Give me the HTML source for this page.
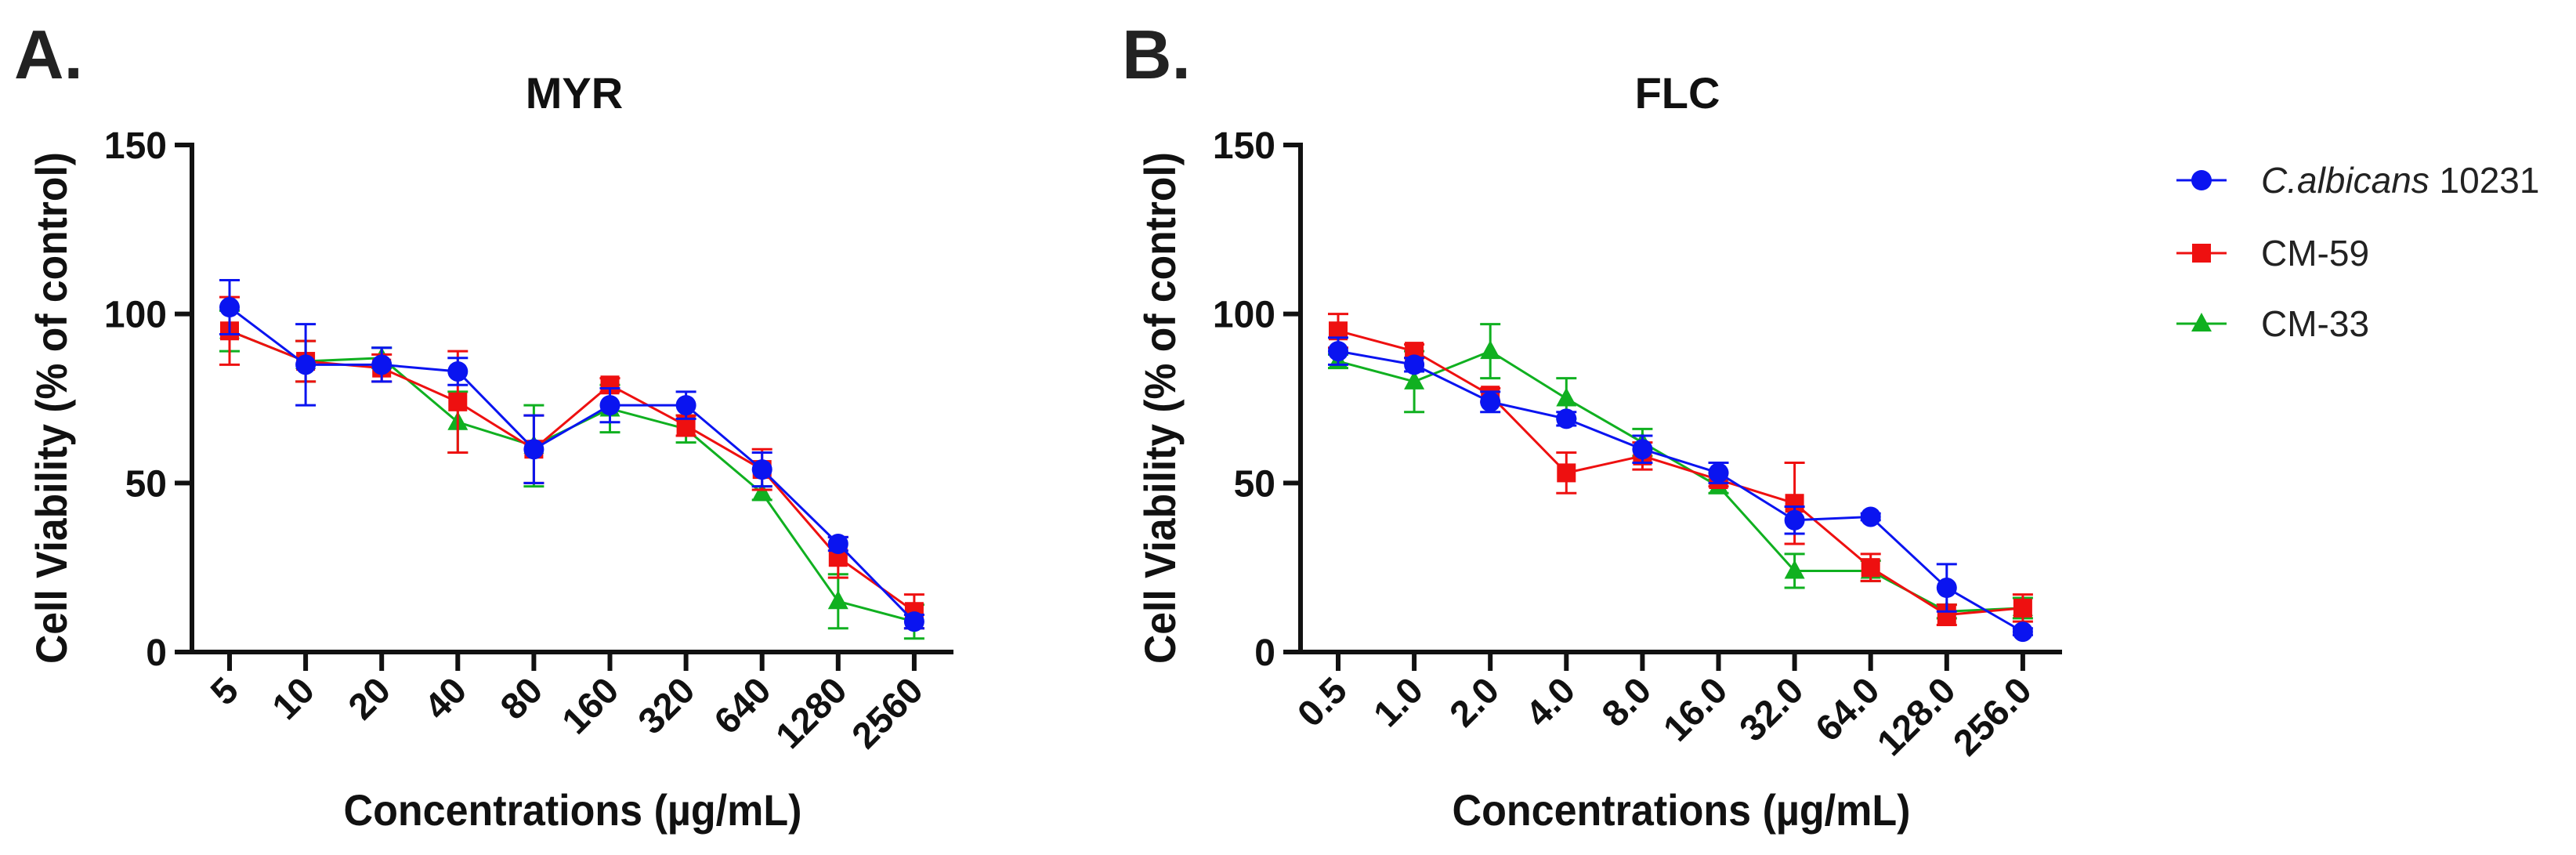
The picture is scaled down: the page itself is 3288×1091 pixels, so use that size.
<!DOCTYPE html>
<html><head><meta charset="utf-8"><style>
html,body{margin:0;padding:0;background:#fff;}
svg{display:block;font-family:"Liberation Sans",Arial,sans-serif;}
</style></head><body>
<svg id="fig" width="3288" height="1091" viewBox="0 0 3288 1091">
<text x="18" y="100" font-size="88" font-weight="bold" fill="#222">A.</text>
<text x="1432" y="100" font-size="88" font-weight="bold" fill="#222">B.</text>
<g id="legend"></g>
</svg>
<script>
const seriesNames = ["C.albicans 10231","CM-59","CM-33"];
const colors = ["#0a14f0","#ee1010","#10b020"];
const catsA = ["5","10","20","40","80","160","320","640","1280","2560"];
const catsB = ["0.5","1.0","2.0","4.0","8.0","16.0","32.0","64.0","128.0","256.0"];
const yTicks = [0,50,100,150];
const aBlue = [102,85,85,83,60,73,73,54,32,9];
const aBlueErr = [8,12,5,4,10,5,4,5,2,2];
const aRed = [95,86,84,74,60,79,67,54,28,12];
const aRedErr = [10,6,4,15,10,2,3,6,6,5];
const aGreen = [95,86,87,68,61,72,66,47,15,9];
const aGreenErr = [6,6,3,9,12,7,4,2,8,5];
const bBlue = [89,85,74,69,60,53,39,40,19,6];
const bBlueErr = [4,2,3,2,4,3,4,1,7,1];
const bRed = [95,89,76,53,58,51,44,25,11,13];
const bRedErr = [5,2,2,6,4,2,12,4,3,4];
const bGreen = [86,80,89,75,62,49,24,24,12,13];
const bGreenErr = [2,9,8,6,4,2,5,3,2,3];

const NS="http://www.w3.org/2000/svg";
const svg=document.getElementById('fig');
function mk(tag,attrs,parent){const e=document.createElementNS(NS,tag);for(const k in attrs)e.setAttribute(k,attrs[k]);(parent||svg).appendChild(e);return e;}

function marker(g,shape,cx,cy,col){
  let m;
  if(shape===0){m=mk('circle',{cx:cx,cy:cy,r:13,fill:col},g);}
  else if(shape===1){m=mk('rect',{x:cx-12,y:cy-12,width:24,height:24,fill:col},g);}
  else {m=mk('polygon',{points:`${cx},${cy-14} ${cx+13},${cy+10} ${cx-13},${cy+10}`,fill:col},g);}
  return m;
}

function panel(key,axisX,title,titleX,cats,vals,errs){
  const y0=832,y150=185,x0=axisX+48,dx=97.1,xEnd=axisX+972;
  const ys=v=>y0-(v/150)*(y0-y150);
  const xs=i=>x0+i*dx;
  const g=mk('g',{});
  
  
  const t=mk('text',{x:titleX,y:138,'font-size':56,'font-weight':'bold','text-anchor':'middle',fill:'#111'},g);
  t.textContent=title;
  
  
  const ya=mk('line',{x1:axisX,y1:y150-3,x2:axisX,y2:y0+3,stroke:'#111','stroke-width':6},g);
  
  
  const xa=mk('line',{x1:axisX-3,y1:y0,x2:xEnd,y2:y0,stroke:'#111','stroke-width':6},g);
  
  
  yTicks.forEach(v=>{
    mk('line',{x1:axisX-22,y1:ys(v),x2:axisX,y2:ys(v),stroke:'#111','stroke-width':6},g);
    const tl=mk('text',{x:axisX-32,y:ys(v)+17,'font-size':48,'font-weight':'bold','text-anchor':'end',fill:'#111'},g);
    tl.textContent=v;
    
    
  });
  cats.forEach((c,i)=>{
    mk('line',{x1:xs(i),y1:y0,x2:xs(i),y2:y0+24,stroke:'#111','stroke-width':6},g);
    const tl=mk('text',{x:xs(i)+14,y:y0+52,'font-size':47,'font-weight':'bold','text-anchor':'end',fill:'#111',transform:`rotate(-45 ${xs(i)+14} ${y0+52})`},g);
    tl.textContent=c;
    
    
  });
  const yt=mk('text',{x:0,y:0,'font-size':56,'font-weight':'bold','text-anchor':'middle',fill:'#111',textLength:653,lengthAdjust:'spacingAndGlyphs',transform:`translate(${axisX-160},${(y0+y150)/2+12}) rotate(-90)`},g);
  yt.textContent='Cell Viability (% of control)';
  
  
  const xt=mk('text',{x:(axisX+xEnd)/2,y:1053,'font-size':56,'font-weight':'bold','text-anchor':'middle',fill:'#111',textLength:585,lengthAdjust:'spacingAndGlyphs'},g);
  xt.textContent='Concentrations (µg/mL)';
  
  
  [2,1,0].forEach(s=>{
    const sg=mk('g',{},g);
    
    
    const col=colors[s];
    const pts=vals[s].map((v,i)=>xs(i)+','+ys(v)).join(' ');
    mk('polyline',{points:pts,fill:'none',stroke:col,'stroke-width':3},sg);
    vals[s].forEach((v,i)=>{
      const e=errs[s][i],x=xs(i);
      mk('line',{x1:x,y1:ys(v+e),x2:x,y2:ys(v-e),stroke:col,'stroke-width':3},sg);
      mk('line',{x1:x-13,y1:ys(v+e),x2:x+13,y2:ys(v+e),stroke:col,'stroke-width':3},sg);
      mk('line',{x1:x-13,y1:ys(v-e),x2:x+13,y2:ys(v-e),stroke:col,'stroke-width':3},sg);
      const m=marker(sg,s,x,ys(v),col);
      
      
    });
  });
}
panel('myr',245,'MYR',733,catsA,[aBlue,aRed,aGreen],[aBlueErr,aRedErr,aGreenErr]);
panel('flc',1660,'FLC',2141,catsB,[bBlue,bRed,bGreen],[bBlueErr,bRedErr,bGreenErr]);

const lg=document.getElementById('legend');
const rowsY=[230,323,413];
seriesNames.forEach((n,s)=>{
  const y=rowsY[s];
  const eg=mk('g',{},lg);
  
  
  mk('line',{x1:2778,y1:y,x2:2842,y2:y,stroke:colors[s],'stroke-width':3},eg);
  marker(eg,s,2810,y,colors[s]);
  const t=mk('text',{x:2886,y:y+16,'font-size':46,fill:'#222'},eg);
  if(s===0){
    const i1=mk('tspan',{'font-style':'italic'},t);i1.textContent='C.albicans';
    const i2=mk('tspan',{},t);i2.textContent=' 10231';
  } else t.textContent=n;
});
</script>
</body></html>
